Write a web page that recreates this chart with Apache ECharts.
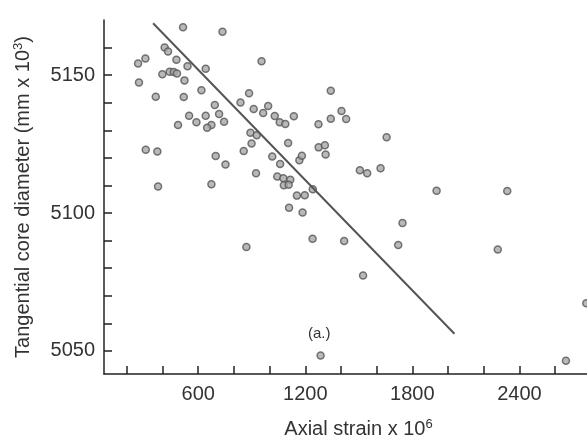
<!DOCTYPE html>
<html>
<head>
<meta charset="utf-8">
<script src="https://cdn.jsdelivr.net/npm/echarts@6/dist/echarts.min.js"></script>
<style>html,body{margin:0;padding:0;background:#fff}#c{width:587px;height:444px}</style>
</head>
<body>
<div id="c"></div>
<script>
// Axial strain x 10^6
var strain = [515, 736, 412, 431, 304, 263, 478, 540, 642, 955, 399, 440, 463, 481, 523, 268, 362, 519, 618, 885,
  837, 911, 992, 964, 693, 717, 642, 549, 590, 745, 487, 674, 650, 1029, 1057, 1088, 1136, 893, 928, 899,
  1104, 306, 371, 698, 855, 1015, 753, 1059, 1167, 1181, 924, 1043, 1077, 1116, 1080, 1107, 375, 674, 1153, 1197,
  1109, 1185, 870, 1343, 1403, 1429, 1343, 1274, 1656, 1275, 1310, 1314, 1506, 1547, 1622, 1242, 1936, 2332, 1745, 1241,
  1418, 1721, 2279, 1524, 2775, 1286, 2661];
// Tangential core diameter (mm x 10^3)
var diameter = [5167.4, 5165.7, 5160.0, 5158.6, 5156.0, 5154.2, 5155.6, 5153.2, 5152.3, 5155.0, 5150.3, 5151.2, 5151.1, 5150.6, 5148.1, 5147.3, 5142.2, 5142.1, 5144.5, 5143.4,
  5140.1, 5137.7, 5138.8, 5136.3, 5139.2, 5135.9, 5135.3, 5135.3, 5132.9, 5133.1, 5131.9, 5131.9, 5130.9, 5135.2, 5132.9, 5132.3, 5135.1, 5129.1, 5128.2, 5125.2,
  5125.4, 5122.9, 5122.3, 5120.7, 5122.5, 5120.5, 5117.6, 5117.8, 5119.1, 5120.8, 5114.4, 5113.2, 5112.6, 5112.1, 5110.1, 5110.2, 5109.6, 5110.4, 5106.3, 5106.4,
  5101.9, 5100.2, 5087.7, 5144.3, 5137.0, 5134.1, 5134.2, 5132.2, 5127.5, 5123.8, 5124.6, 5121.2, 5115.5, 5114.4, 5116.2, 5108.6, 5108.1, 5108.0, 5096.4, 5090.7,
  5089.8, 5088.4, 5086.8, 5077.3, 5067.3, 5048.3, 5046.4];
// Fitted trend line end points
var trendX = [347, 2036];
var trendY = [5168.8, 5056.2];
// Tick values and labels
var xTicks = [200, 400, 600, 800, 1000, 1200, 1400, 1600, 1800, 2000, 2200, 2400, 2600];
var xLabels = [600, 1200, 1800, 2400];
var yStep = 10;
var yLabels = [5050, 5100, 5150];

var pts = strain.map(function (x, i) { return [x, diameter[i]]; });
var trend = trendX.map(function (x, i) { return [x, trendY[i]]; });
var FONT = 'Liberation Sans, Arial, sans-serif';
var plain = function (v) { return String(v); };
var yFmt = function (v) {
  var r = Math.round(v);
  return (Math.abs(v - r) < 1e-6 && yLabels.indexOf(r) >= 0) ? String(r) : '';
};

var chart = echarts.init(document.getElementById('c'), null, {renderer: 'canvas'});
chart.setOption({
  animation: false,
  backgroundColor: '#ffffff',
  textStyle: {fontFamily: FONT},
  grid: {left: 104, right: 0, top: 20, bottom: 66, containLabel: false},
  xAxis: {
    type: 'value', min: 72, max: 2779,
    name: 'Axial strain x 10{sup|6}',
    nameLocation: 'middle', nameGap: 44,
    nameTextStyle: {fontSize: 20, color: '#333', fontFamily: FONT, padding: [0, 0, 0, 26],
      rich: {sup: {fontSize: 13, color: '#333', fontFamily: FONT, padding: [0, 0, 9, 0]}}},
    axisLine: {show: true, lineStyle: {color: '#222', width: 1.5}},
    axisTick: {show: true, inside: true, length: 8, customValues: xTicks, lineStyle: {color: '#222', width: 1.5}},
    axisLabel: {customValues: xLabels, formatter: plain, fontSize: 20, color: '#333', margin: 10, fontFamily: FONT},
    splitLine: {show: false}
  },
  yAxis: {
    type: 'value', min: 5041.6, max: 5170,
    splitNumber: 13, minInterval: yStep, maxInterval: yStep,
    name: 'Tangential core diameter (mm x 10{sup|3})',
    nameLocation: 'middle', nameGap: 70, nameRotate: 90,
    nameTextStyle: {fontSize: 20, color: '#333', fontFamily: FONT,
      rich: {sup: {fontSize: 13, color: '#333', fontFamily: FONT, padding: [0, 0, 9, 0]}}},
    axisLine: {show: true, lineStyle: {color: '#222', width: 1.5}},
    axisTick: {show: true, inside: true, length: 8, lineStyle: {color: '#222', width: 1.5}},
    axisLabel: {show: true, formatter: yFmt, showMinLabel: false, showMaxLabel: false,
      fontSize: 20, color: '#333', margin: 9, fontFamily: FONT},
    splitLine: {show: false}
  },
  graphic: [{
    type: 'text', left: 308, top: 326,
    style: {text: '(a.)', fontSize: 15, fill: '#333', fontFamily: FONT}
  }],
  series: [{
    type: 'scatter',
    data: pts,
    symbol: 'circle', symbolSize: 7,
    itemStyle: {color: '#a8a8a8', borderColor: '#555', borderWidth: 1.5}
  }, {
    type: 'line',
    data: trend,
    showSymbol: false, symbol: 'none',
    lineStyle: {color: '#555', width: 2}
  }]
});
</script>
</body>
</html>
